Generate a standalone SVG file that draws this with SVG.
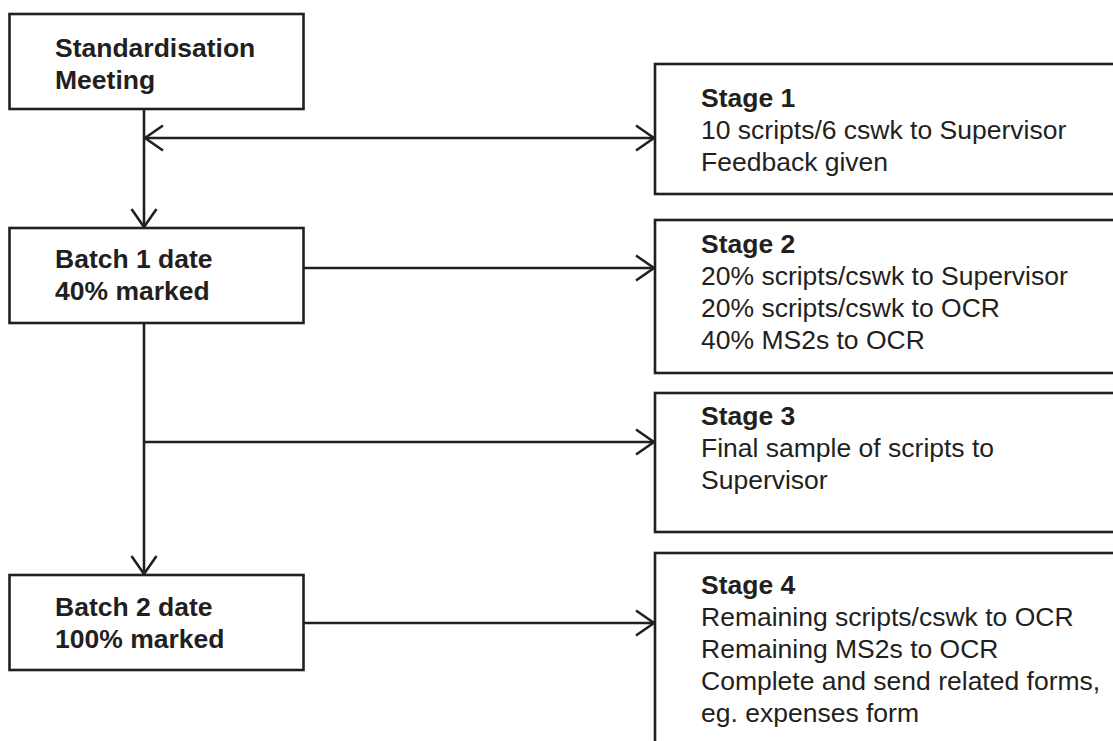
<svg xmlns="http://www.w3.org/2000/svg" width="1113" height="741" viewBox="0 0 1113 741">
<style>
.box{fill:#fff;stroke:#231f20;stroke-width:2.6}
.t{font-family:"Liberation Sans",Arial,sans-serif;font-size:26.5px;fill:#231f20}
.b{font-weight:bold}
.c{fill:none;stroke:#231f20;stroke-width:2.6}
</style>
<defs>
<marker id="ah" markerUnits="userSpaceOnUse" markerWidth="30" markerHeight="30" viewBox="-22 -15 26 30" refX="0" refY="0" orient="auto-start-reverse">
<path d="M-18,-12.5 L0,0 L-18,12.5" fill="none" stroke="#231f20" stroke-width="2.6"/>
</marker>
</defs>
<rect width="1113" height="741" fill="#fff"/>
<g id="connectors">
<line class="c" x1="144" y1="110" x2="144" y2="227" marker-end="url(#ah)"/>
<line class="c" x1="145" y1="138" x2="654" y2="138" marker-start="url(#ah)" marker-end="url(#ah)"/>
<line class="c" x1="304" y1="268" x2="654" y2="268" marker-end="url(#ah)"/>
<line class="c" x1="144" y1="323" x2="144" y2="574" marker-end="url(#ah)"/>
<line class="c" x1="144" y1="442" x2="654" y2="442" marker-end="url(#ah)"/>
<line class="c" x1="304" y1="623" x2="654" y2="623" marker-end="url(#ah)"/>
</g>
<g id="standardisation">
<rect class="box" x="9.5" y="14" width="294" height="95"/>
<text class="t b" x="55" y="57">Standardisation</text>
<text class="t b" x="55" y="89">Meeting</text>
</g>
<g id="batch1">
<rect class="box" x="9.5" y="228" width="294" height="95"/>
<text class="t b" x="55" y="268">Batch 1 date</text>
<text class="t b" x="55" y="300">40% marked</text>
</g>
<g id="batch2">
<rect class="box" x="9.5" y="575" width="294" height="95"/>
<text class="t b" x="55" y="616">Batch 2 date</text>
<text class="t b" x="55" y="648">100% marked</text>
</g>
<g id="stage1">
<rect class="box" x="655" y="64" width="470" height="130"/>
<text class="t b" x="701" y="107">Stage 1</text>
<text class="t" x="701" y="139">10 scripts/6 cswk to Supervisor</text>
<text class="t" x="701" y="171">Feedback given</text>
</g>
<g id="stage2">
<rect class="box" x="655" y="220" width="470" height="153"/>
<text class="t b" x="701" y="253">Stage 2</text>
<text class="t" x="701" y="285">20% scripts/cswk to Supervisor</text>
<text class="t" x="701" y="317">20% scripts/cswk to OCR</text>
<text class="t" x="701" y="349">40% MS2s to OCR</text>
</g>
<g id="stage3">
<rect class="box" x="655" y="393" width="470" height="139"/>
<text class="t b" x="701" y="425">Stage 3</text>
<text class="t" x="701" y="457">Final sample of scripts to</text>
<text class="t" x="701" y="489">Supervisor</text>
</g>
<g id="stage4">
<rect class="box" x="655" y="553" width="470" height="200"/>
<text class="t b" x="701" y="594">Stage 4</text>
<text class="t" x="701" y="626">Remaining scripts/cswk to OCR</text>
<text class="t" x="701" y="658">Remaining MS2s to OCR</text>
<text class="t" x="701" y="690">Complete and send related forms,</text>
<text class="t" x="701" y="722">eg. expenses form</text>
</g>
</svg>
